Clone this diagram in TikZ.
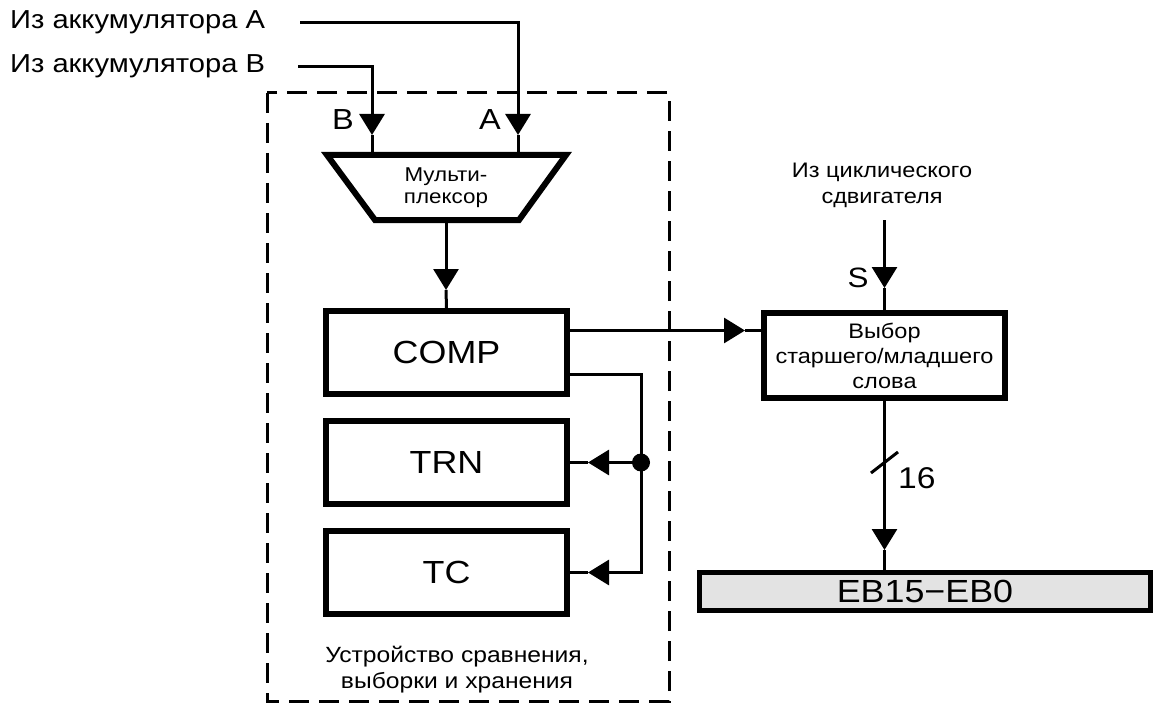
\documentclass[tikz,border=0pt]{standalone}
\usepackage{fontspec}
\setmainfont[FakeStretch=1.12]{Liberation Sans}
\usetikzlibrary{arrows.meta,calc}
\tikzset{
  wire/.style={line width=3pt},
  feed/.style={wire,-{Triangle[length=21pt,width=25pt]}},
  heavy/.style={line width=6pt},
  block/.style={draw,heavy,inner sep=0pt,minimum width=241pt,minimum height=83pt,
    font=\fontsize{32}{36}\selectfont},
  unit/.style={line width=3pt,dash pattern=on 20pt off 10pt},
  src/.style={font=\fontsize{26}{30}\selectfont,inner sep=0pt},
  pin/.style={font=\fontsize{29}{32}\selectfont,inner sep=0pt},
  note/.style={align=center,inner sep=0pt},
}
\begin{document}
\begin{tikzpicture}[x=1pt,y=-1pt]
\useasboundingbox (0,0) rectangle (1157,706);

% dashed outline of the compare/select/store unit
\draw[unit] (267,93) rectangle (669,701);
\node[note,font=\fontsize{22}{26}\selectfont] (unitlbl) at (457,670)
  {Устройство сравнения,\\выборки и хранения};

% accumulator sources
\node[src,anchor=west] (srcA) at (10,22) {Из аккумулятора A};
\node[src,anchor=west] (srcB) at (10,66) {Из аккумулятора B};
\coordinate (a0) at (300,23);
\coordinate (b0) at (298,67);

% multiplexer
\draw[heavy] (327,155) -- (566,155) -- (519,220) -- (375,220) -- cycle;
\node[note,font=\fontsize{20}{22}\selectfont] (mux) at (446,188) {Мульти-\\плексор};
\coordinate (muxA) at (518,155);
\coordinate (muxB) at (372,155);
\coordinate (aTip) at (518,135);
\coordinate (bTip) at (372,135);
\coordinate (muxOut) at (446,220);
\coordinate (mTip) at (446,290);
\node[pin] (lblB) at (343,120) {B};
\node[pin] (lblA) at (490,120) {A};

\draw[feed] (a0) -| (aTip);
\draw[wire] (aTip) -- (muxA);
\draw[feed] (b0) -| (bTip);
\draw[wire] (bTip) -- (muxB);

% registers
\node[block] (comp) at (446.5,352.5) {COMP};
\node[block] (trn)  at (446.5,462.5) {TRN};
\node[block] (tc)   at (446.5,572.5) {TC};

\draw[feed] (muxOut) -- (mTip);
\draw[wire] (mTip) -- (comp.north);

% high/low word select
\node[block,minimum height=85pt,font=\fontsize{21}{25}\selectfont,align=center]
  (sel) at (884.5,355.5) {Выбор\\старшего/младшего\\слова};
\coordinate (sTip) at (745,330.5);
\draw[feed] ([yshift=22pt]comp.east) -- (sTip);
\draw[wire] (sTip) -- (sel.west |- sTip);

% feedback from COMP to TRN and TC
\coordinate (jn) at (641,462.5);
\coordinate (trnTip) at ($(trn.east)+(18,0)$);
\coordinate (tcTip) at ($(tc.east)+(18,0)$);
\draw[feed] ([yshift=-22pt]comp.east) -| (jn |- tc.east) -- (tcTip);
\draw[wire] (tcTip) -- (tc.east);
\draw[feed] (jn) -- (trnTip);
\draw[wire] (trnTip) -- (trn.east);
\fill (jn) circle (9);

% barrel shifter input
\node[note,font=\fontsize{21}{26}\selectfont] (shsrc) at (882,185)
  {Из циклического\\сдвигателя};
\coordinate (s0) at (884.5,220);
\coordinate (shTip) at (884.5,288);
\node[pin,font=\fontsize{28}{32}\selectfont] (lblS) at (858,278) {S};
\draw[feed] (s0) -- (shTip);
\draw[wire] (shTip) -- (sel.north);

% EB bus
\node[draw,line width=5pt,fill=black!11,inner sep=0pt,minimum width=451pt,
  minimum height=38pt,font=\fontsize{32}{36}\selectfont] (eb) at (925,591.5) {EB15−EB0};
\coordinate (busTip) at (884.5,550);
\draw[feed] (sel.south) -- (busTip);
\draw[wire] (busTip) -- (busTip |- eb.north);
\draw[wire] (871,473) -- (898,452);
\node[pin,font=\fontsize{30}{34}\selectfont,anchor=west] (width) at (898,478) {16};
\end{tikzpicture}
\end{document}
